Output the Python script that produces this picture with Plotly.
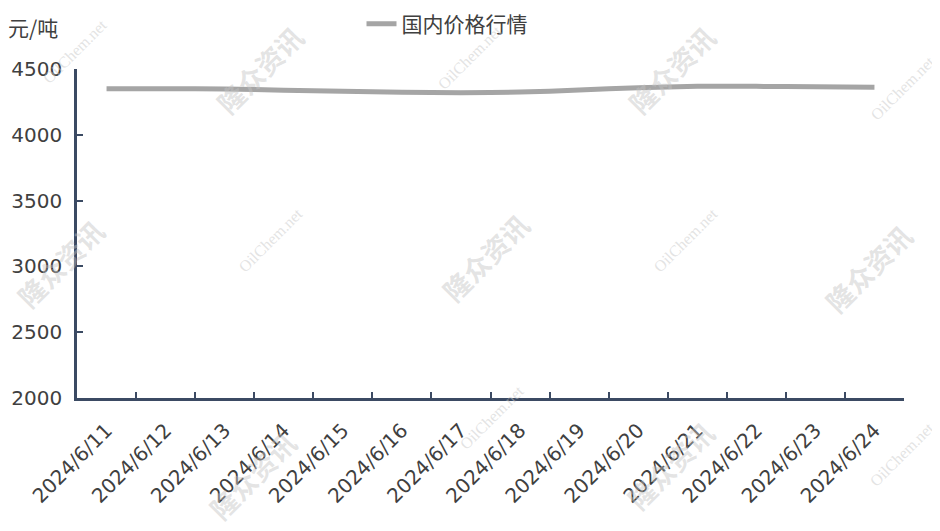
import plotly.graph_objects as go

dates = ["2024/6/11", "2024/6/12", "2024/6/13", "2024/6/14", "2024/6/15", "2024/6/16", "2024/6/17",
         "2024/6/18", "2024/6/19", "2024/6/20", "2024/6/21", "2024/6/22", "2024/6/23", "2024/6/24"]
prices = [4350, 4350, 4348, 4338, 4330, 4323, 4320, 4325, 4340, 4358, 4368, 4368, 4365, 4362]
series_name = "国内价格行情"
unit_label = "元/吨"

axis_color = "#3b4a63"
cjk_font = "Noto Sans CJK SC, sans-serif"
num_font = "DejaVu Sans, sans-serif"

W, H = 940, 531
OFF = 8  # page offset of the figure inside the window
ML, MR, MT, MB = 77 - OFF, 36 + OFF, 69 - OFF, 133 + OFF
PW, PH = W - ML - MR, H - MT - MB


def px(x):
    return (x - OFF - ML) / PW


def py(y):
    return (H - MB - (y - OFF)) / PH


fig = go.Figure()
fig.add_trace(go.Scatter(
    x=dates, y=prices, mode="lines", name=series_name,
    line=dict(color="#a5a5a5", width=5, shape="spline", smoothing=0.8),
))

# watermarks (window pixel centres)
wm_cn = [(260, 70), (672, 70), (60, 263), (485, 257), (868, 268), (252, 475), (670, 465)]
wm_en = [(75, 52), (470, 58), (270, 240), (685, 240), (902, 88), (492, 418), (902, 455)]
annotations = []
for (x, y) in wm_cn:
    annotations.append(dict(text="<b>隆众资讯</b>", x=px(x), y=py(y), xref="paper", yref="paper",
                            xanchor="center", yanchor="middle", showarrow=False, textangle=-45,
                            font=dict(size=27, color="rgba(195,195,195,0.45)", family=cjk_font)))
for (x, y) in wm_en:
    annotations.append(dict(text="OilChem.net", x=px(x), y=py(y), xref="paper", yref="paper",
                            xanchor="center", yanchor="middle", showarrow=False, textangle=-45,
                            font=dict(size=16, color="rgba(200,200,200,0.5)", family="Liberation Serif, serif")))
annotations.append(dict(text=unit_label, x=px(6), y=py(27), xref="paper", yref="paper",
                        xanchor="left", yanchor="middle", showarrow=False,
                        font=dict(size=21, color="#404040", family=cjk_font)))

fig.update_layout(
    width=W, height=H,
    margin=dict(l=ML, r=MR, t=MT, b=MB, autoexpand=False),
    paper_bgcolor="white", plot_bgcolor="white",
    font=dict(family=cjk_font, color="#404040"),
    showlegend=True,
    legend=dict(orientation="h", x=439 / W, xanchor="center", y=1 - 16 / H, yanchor="middle",
                xref="container", yref="container",
                font=dict(size=21, color="#404040", family=cjk_font)),
    annotations=annotations,
    xaxis=dict(type="category", range=[-0.5, len(dates) - 0.5], showline=True, linecolor=axis_color,
               linewidth=2.5, ticks="inside", tickson="boundaries", ticklen=6, tickwidth=2,
               tickcolor=axis_color, tickangle=-45, tickfont=dict(size=20, color="#404040", family=num_font),
               ticklabelstandoff=10, showgrid=False, zeroline=False, automargin=False),
    yaxis=dict(range=[2000, 4500], dtick=500, showline=True, linecolor=axis_color, linewidth=2.5,
               ticks="inside", ticklen=6, tickwidth=2, tickcolor=axis_color,
               tickfont=dict(size=20, color="#404040", family=num_font), ticklabelstandoff=8,
               showgrid=False, zeroline=False, automargin=False),
)

fig.write_html("out.html")
